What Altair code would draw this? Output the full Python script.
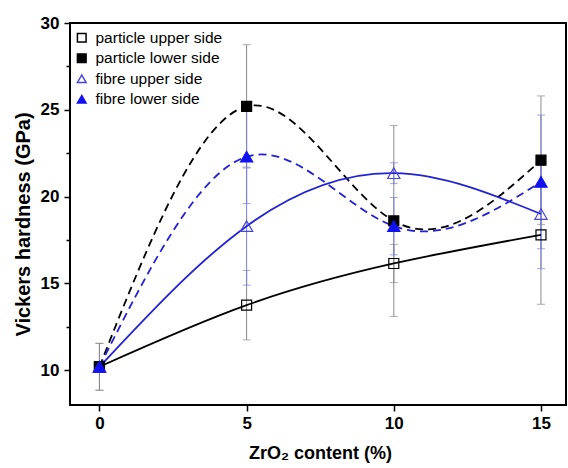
import altair as alt
import pandas as pd

# ---- data ----
x_vals = [0, 5, 10, 15]
series_names = ["particle upper side", "particle lower side",
                "fibre upper side", "fibre lower side"]
particle_upper = [10.2, 13.75, 16.15, 17.8]
particle_lower = [10.2, 25.2, 18.6, 22.1]
fibre_upper = [10.2, 18.3, 21.35, 19.0]
fibre_lower = [10.2, 22.3, 18.3, 20.85]
particle_upper_err = [1.35, 2.0, 1.1, 4.0]
particle_lower_err = [1.35, 3.55, 5.5, 3.7]
fibre_upper_err = [0.0, 3.4, 0.6, 3.15]
fibre_lower_err = [0.0, 2.7, 1.65, 3.85]
x_ticks = [0, 5, 10, 15]
y_ticks = [10, 12.5, 15, 17.5, 20, 22.5, 25, 27.5, 30]

values = [particle_upper, particle_lower, fibre_upper, fibre_lower]
errors = [particle_upper_err, particle_lower_err, fibre_upper_err, fibre_lower_err]
groups = ["particle", "particle", "fibre", "fibre"]

rows = []
for name, vals, errs, grp in zip(series_names, values, errors, groups):
    for xv, v, e in zip(x_vals, vals, errs):
        rows.append({"x": xv, "y": v, "lo": v - e, "hi": v + e,
                     "series": name, "group": grp})
df = pd.DataFrame(rows)

FONT = "Liberation Sans"
BLUE_LINE = "#2222d4"
BLUE_MARK = "#1212f0"
BLUE_OPEN = "#4646da"
ERR_GREY = "#8a8a8a"
ERR_BLUE = "#7c7cdc"

xs = alt.Scale(domain=[-1, 15.85], nice=False, zero=False)
ys = alt.Scale(domain=[8, 30], nice=False, zero=False)

x_axis = alt.Axis(values=x_ticks, title="ZrO₂ content (%)",
                  titleFontSize=18, titleFont=FONT, titleFontWeight="bold",
                  titleX=250, titleY=53, titleBaseline="alphabetic",
                  titleAlign="center", labelPadding=4, tickSize=6)
y_axis = alt.Axis(values=y_ticks, title="Vickers hardness (GPa)",
                  titleFontSize=20, titleFont=FONT, titleFontWeight="bold",
                  titleX=-41, titleY=201, titleBaseline="alphabetic",
                  titleAlign="center", titleAngle=270, labelPadding=5,
                  labelExpr="datum.value % 5 === 0 ? datum.label : ''",
                  tickSize={"condition": {"test": "datum.value % 5 !== 0", "value": 4},
                            "value": 6})

X = alt.X("x:Q", scale=xs, axis=x_axis)
Y = alt.Y("y:Q", scale=ys, axis=y_axis)

base = alt.Chart(df)

def err_layers(grp, color):
    d = base.transform_filter(alt.datum.group == grp)
    rule = d.mark_rule(color=color, strokeWidth=1).encode(
        x=X, y=alt.Y("lo:Q", scale=ys, axis=y_axis), y2="hi:Q")
    cap_lo = d.mark_tick(color=color, orient="horizontal", size=8, thickness=1).encode(
        x=X, y=alt.Y("lo:Q", scale=ys, axis=y_axis))
    cap_hi = d.mark_tick(color=color, orient="horizontal", size=8, thickness=1).encode(
        x=X, y=alt.Y("hi:Q", scale=ys, axis=y_axis))
    return [rule, cap_lo, cap_hi]

line_styles = {
    "particle upper side": ("black", []),
    "particle lower side": ("black", [8, 5]),
    "fibre upper side": (BLUE_LINE, []),
    "fibre lower side": (BLUE_LINE, [8, 5]),
}
line_layers = []
for name in series_names:
    col, dash = line_styles[name]
    kw = dict(color=col, strokeWidth=1.8, interpolate="natural")
    if dash:
        kw["strokeDash"] = dash
    line_layers.append(
        base.transform_filter(alt.datum.series == name)
        .mark_line(**kw).encode(x=X, y=Y, order="x:Q"))

legend = alt.Legend(title=None, orient="none", legendX=4, legendY=7)
fill_enc = alt.Fill("series:N", sort=series_names,
                    scale=alt.Scale(domain=series_names,
                                    range=["transparent", "black", "transparent", BLUE_MARK]),
                    legend=legend)
stroke_enc = alt.Stroke("series:N", sort=series_names,
                        scale=alt.Scale(domain=series_names,
                                        range=["black", "black", BLUE_OPEN, BLUE_MARK]),
                        legend=legend)
shape_enc = alt.Shape("series:N", sort=series_names,
                      scale=alt.Scale(domain=series_names,
                                      range=["square", "square", "triangle-up", "triangle-up"]),
                      legend=legend)

squares = base.transform_filter(alt.datum.group == "particle").mark_point(
    filled=True, size=100, strokeWidth=1.2, opacity=1).encode(
    x=X, y=Y, fill=fill_enc, stroke=stroke_enc, shape=shape_enc)
triangles = base.transform_filter(alt.datum.group == "fibre").mark_point(
    filled=True, size=150, strokeWidth=1.2, opacity=1).encode(
    x=X, y=Y, fill=fill_enc, stroke=stroke_enc, shape=shape_enc)

layers = err_layers("particle", ERR_GREY) + err_layers("fibre", ERR_BLUE) + line_layers + [squares, triangles]

chart = alt.layer(*layers).properties(
    width=496, height=382,
    autosize=alt.AutoSizeParams(type="none"),
    padding={"left": 70, "top": 23, "right": 2, "bottom": 63},
).configure_view(
    stroke="black", strokeWidth=2
).configure_axis(
    labelFont=FONT, labelFontSize=17, labelFontWeight="bold", labelColor="black",
    titleColor="black", tickColor="black", tickWidth=1.5, domain=False, grid=False
).configure_legend(
    labelFont=FONT, labelFontSize=15.5, labelColor="black", symbolSize=75,
    symbolStrokeWidth=1.5, rowPadding=3.5, labelOffset=6, padding=0
)

chart.save("out.html", embed_options={"renderer": "svg", "actions": False})
